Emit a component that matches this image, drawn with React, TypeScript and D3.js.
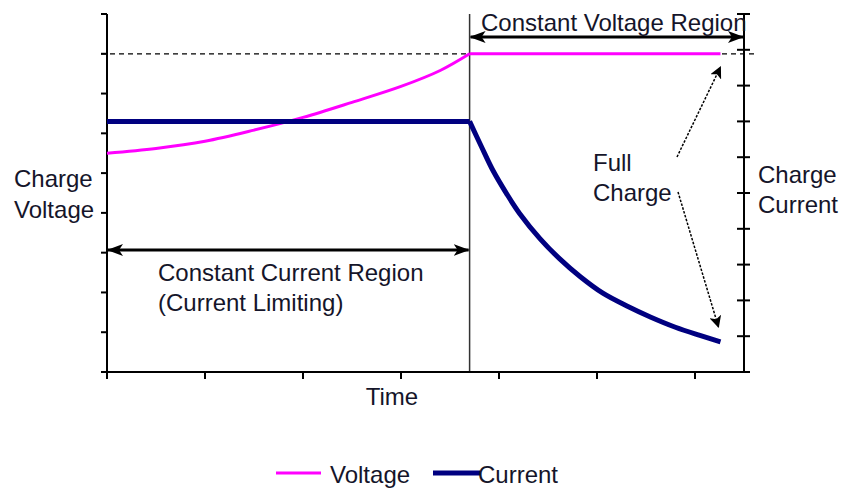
import React from "react";
import * as d3 from "d3";

const W = 844;
const H = 489;

// Time in axis units (bottom ticks every 1 unit)
const voltageTime = [0, 0.5, 1, 1.5, 2, 2.5, 3, 3.4, 3.7, 6.26];
const voltageValues = [5.5, 5.62, 5.8, 6.08, 6.4, 6.78, 7.18, 7.58, 8.0, 8.0];

const currentTime = [0, 3.7, 3.82, 3.94, 4.08, 4.21, 4.42, 4.62, 4.83, 5.06, 5.3, 5.55, 5.8, 6.05, 6.26];
const currentValues = [7.0, 7.0, 6.3, 5.62, 4.97, 4.43, 3.72, 3.16, 2.66, 2.2, 1.85, 1.53, 1.25, 1.02, 0.84];

const xTicks = [0, 1, 2, 3, 4, 5, 6];
const leftTicks = [0, 1, 2, 3, 4, 5, 6, 7, 8, 9];
const rightTicks = [0, 1, 2, 3, 4, 5, 6, 7, 8, 9, 10];

const fullChargeVoltage = 8.0;
const regionSplit = 3.7;
const endTime = 6.26;

const FONT = "'Liberation Sans', Arial, sans-serif";
const TXT = "#15152a";

export default function App() {
  const x = d3.scaleLinear().domain([0, 6.5]).range([107, 744]);
  const yL = d3.scaleLinear().domain([0, 9]).range([372, 14]);
  const yR = d3.scaleLinear().domain([0, 10]).range([372, 14]);

  // split each series at the region boundary so the corner stays sharp
  const splitIdx = (ts: number[]) => ts.findIndex((t) => t >= regionSplit);
  const vi = splitIdx(voltageTime);
  const ci = splitIdx(currentTime);

  const vLine = d3
    .line<[number, number]>()
    .x((d) => x(d[0]))
    .y((d) => yL(d[1]))
    .curve(d3.curveCatmullRom.alpha(0.5));
  const cLine = d3
    .line<[number, number]>()
    .x((d) => x(d[0]))
    .y((d) => yR(d[1]))
    .curve(d3.curveCatmullRom.alpha(0.5));

  const vPts: [number, number][] = voltageTime.map((t, i) => [t, voltageValues[i]]);
  const cPts: [number, number][] = currentTime.map((t, i) => [t, currentValues[i]]);
  const vPath = (vLine(vPts.slice(0, vi + 1)) || "") + (vLine(vPts.slice(vi)) || "");
  const cPath = (cLine(cPts.slice(0, ci + 1)) || "") + (cLine(cPts.slice(ci)) || "");

  const x0 = x(0);
  const x1 = x(6.5);
  const yBot = yL(0);
  const yTop = yL(9);
  const xs = x(regionSplit);
  const yFull = yL(fullChargeVoltage);

  return (
    <div style={{ position: "absolute", left: 0, top: 0 }}>
      <svg width={W} height={H} style={{ display: "block", background: "#fff" }}>
        <defs>
          <marker id="ah" viewBox="0 0 16 12" refX="15" refY="6" markerWidth="16" markerHeight="12" markerUnits="userSpaceOnUse" orient="auto-start-reverse">
            <path d="M0,0 L16,6 L0,12 L4,6 z" fill="#000" />
          </marker>
          <marker id="ah2" viewBox="0 0 12 12" refX="11" refY="6" markerWidth="12" markerHeight="12" markerUnits="userSpaceOnUse" orient="auto">
            <path d="M0,0 L12,6 L0,12 L3,6 z" fill="#000" />
          </marker>
        </defs>

        {/* dashed full-voltage line */}
        <line x1={x0 - 6} x2={x1 + 10} y1={yFull} y2={yFull} stroke="#000" strokeWidth={1.3} strokeDasharray="5,4" />

        {/* region split line */}
        <line x1={xs} x2={xs} y1={yTop} y2={yBot} stroke="#333" strokeWidth={1.5} />

        {/* axes */}
        <line x1={x0} x2={x0} y1={yTop} y2={yBot} stroke="#000" strokeWidth={2} />
        <line x1={x1} x2={x1} y1={yTop} y2={yBot} stroke="#000" strokeWidth={2} />
        <line x1={x0} x2={x1} y1={yBot} y2={yBot} stroke="#000" strokeWidth={2} />
        {leftTicks.map((t) => (
          <line key={"l" + t} x1={x0 - 6} x2={x0} y1={yL(t)} y2={yL(t)} stroke="#000" strokeWidth={2} />
        ))}
        {rightTicks.map((t) => (
          <line key={"r" + t} x1={x1 - 7} x2={x1 + 6} y1={yR(t)} y2={yR(t)} stroke="#000" strokeWidth={2} />
        ))}
        {xTicks.map((t) => (
          <line key={"b" + t} x1={x(t)} x2={x(t)} y1={yBot} y2={yBot + 7} stroke="#000" strokeWidth={2} />
        ))}

        {/* series */}
        <path d={vPath} fill="none" stroke="#ff00ff" strokeWidth={3} />
        <path d={cPath} fill="none" stroke="#000080" strokeWidth={5} strokeLinejoin="round" />

        {/* region arrows */}
        <line x1={x0 + 1} x2={xs - 1} y1={250} y2={250} stroke="#000" strokeWidth={3} markerStart="url(#ah)" markerEnd="url(#ah)" />
        <line x1={xs + 1} x2={x1 - 1} y1={37} y2={37} stroke="#000" strokeWidth={3} markerStart="url(#ah)" markerEnd="url(#ah)" />

        {/* full-charge arrows */}
        <line x1={677} y1={157} x2={x(endTime)} y2={67} stroke="#000" strokeWidth={1.5} strokeDasharray="2.5,1.5" markerEnd="url(#ah2)" />
        <line x1={678} y1={192} x2={x(endTime) - 2} y2={327} stroke="#000" strokeWidth={1.5} strokeDasharray="2.5,1.5" markerEnd="url(#ah2)" />

        {/* texts */}
        <g fontFamily={FONT} fontSize={24} fill={TXT}>
          <text x={14} y={187}>Charge</text>
          <text x={14} y={218}>Voltage</text>
          <text x={758} y={183}>Charge</text>
          <text x={758} y={213}>Current</text>
          <text x={593} y={171}>Full</text>
          <text x={593} y={201}>Charge</text>
          <text x={158} y={281}>Constant Current Region</text>
          <text x={158} y={311}>(Current Limiting)</text>
          <text x={481} y={31}>Constant Voltage Region</text>
          <text x={392} y={405} textAnchor="middle">Time</text>
        </g>

        {/* legend */}
        <line x1={276} x2={321} y1={473} y2={473} stroke="#ff00ff" strokeWidth={3} />
        <line x1={433} x2={480} y1={473} y2={473} stroke="#000080" strokeWidth={5} />
        <g fontFamily={FONT} fontSize={24} fill={TXT}>
          <text x={330} y={483}>Voltage</text>
          <text x={478} y={483}>Current</text>
        </g>
      </svg>
    </div>
  );
}
